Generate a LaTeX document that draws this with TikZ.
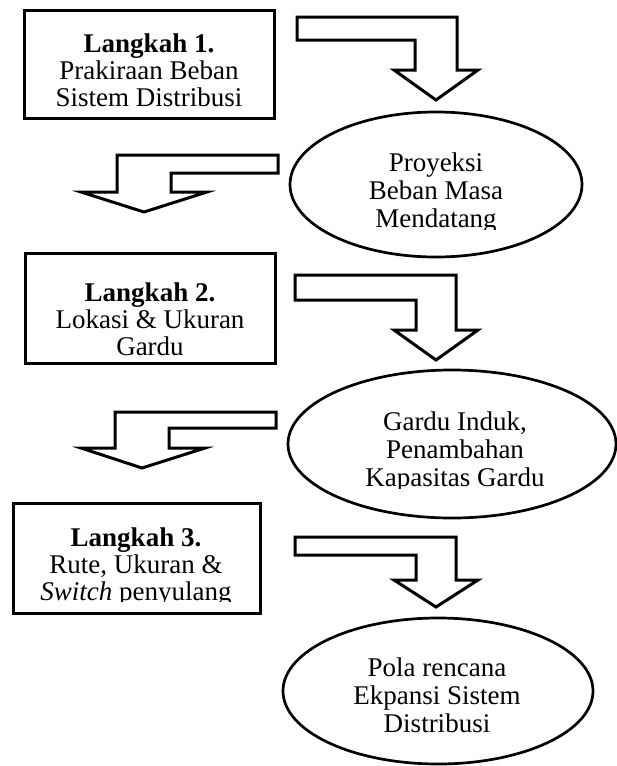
\documentclass[tikz,border=0pt]{standalone}
\usepackage{fontspec}
\setmainfont{Liberation Serif}
\usetikzlibrary{shapes.geometric}
\begin{document}
\begin{tikzpicture}[x=1pt,y=-1pt,
  stepbox/.style={draw, rectangle, line width=3pt, inner sep=0pt},
  oval/.style={draw, ellipse, line width=2.7pt, inner sep=0pt},
  blk/.style={draw, fill=white, line width=3pt, line join=miter},
  txt/.style={anchor=base, inner sep=0pt, font=\fontsize{27}{28}\selectfont}]
\useasboundingbox (0,0) rectangle (617,766);

% boxes
\node[stepbox, minimum width=250pt, minimum height=108pt] (b1) at (149,64) {};
\node[stepbox, minimum width=250pt, minimum height=110pt] (b2) at (150,308) {};
\node[stepbox, minimum width=247pt, minimum height=110pt] (b3) at (136.5,558) {};

% ellipses
\node[oval, minimum width=292pt, minimum height=145pt] (e1) at (436,184.5) {};
\node[oval, minimum width=328pt, minimum height=148pt] (e2) at (452,444) {};
\node[oval, minimum width=310pt, minimum height=146pt] (e3) at (438,691) {};

% box texts
\node[txt] (b1a) at (149,52) {\textbf{Langkah 1.}};
\node[txt] (b1b) at (149,79) {Prakiraan Beban};
\node[txt] (b1c) at (149,106) {Sistem Distribusi};

\node[txt] (b2a) at (150,301) {\textbf{Langkah 2.}};
\node[txt] (b2b) at (150,328) {Lokasi \& Ukuran};
\node[txt] (b2c) at (150,355) {Gardu};

\node[txt] (b3a) at (136,546) {\textbf{Langkah 3.}};
\node[txt] (b3b) at (136,573) {Rute, Ukuran \&};
\begin{scope}
  \clip (0,560) rectangle (300,601);
  \node[txt] (b3c) at (136,600) {\textit{Switch} penyulang};
\end{scope}

% ellipse texts
\node[txt] (e1a) at (436,171) {Proyeksi};
\node[txt] (e1b) at (436,199) {Beban Masa};
\begin{scope}
  \clip (250,205) rectangle (617,229);
  \node[txt] (e1c) at (436,227) {Mendatang};
\end{scope}

\node[txt] (e2a) at (455,430) {Gardu Induk,};
\node[txt] (e2b) at (455,458) {Penambahan};
\begin{scope}
  \clip (250,465) rectangle (617,488);
  \node[txt] (e2c) at (455,486) {Kapasitas Gardu};
\end{scope}

\node[txt] (e3a) at (437,676) {Pola rencana};
\node[txt] (e3b) at (437,704) {Ekpansi Sistem};
\node[txt] (e3c) at (437,732) {Distribusi};

% block arrows
\draw[blk] (297,17) -- (457,17) -- (457,70) -- (478,70) -- (436,100) -- (394,70) -- (415,70) -- (415,40) -- (297,40) -- cycle;
\draw[blk] (278,155) -- (117,155) -- (117,192) -- (81,192) -- (144,212) -- (207,192) -- (171,192) -- (171,173) -- (278,173) -- cycle;
\draw[blk] (295,275) -- (456,275) -- (456,330) -- (478,330) -- (436,360) -- (394,330) -- (416,330) -- (416,300) -- (295,300) -- cycle;
\draw[blk] (276,412) -- (115,412) -- (115,448) -- (81,448) -- (142,468) -- (205,448) -- (169,448) -- (169,428) -- (276,428) -- cycle;
\draw[blk] (295,537) -- (456,537) -- (456,580) -- (478,580) -- (436,607) -- (394,580) -- (416,580) -- (416,555) -- (295,555) -- cycle;
\end{tikzpicture}
\end{document}
